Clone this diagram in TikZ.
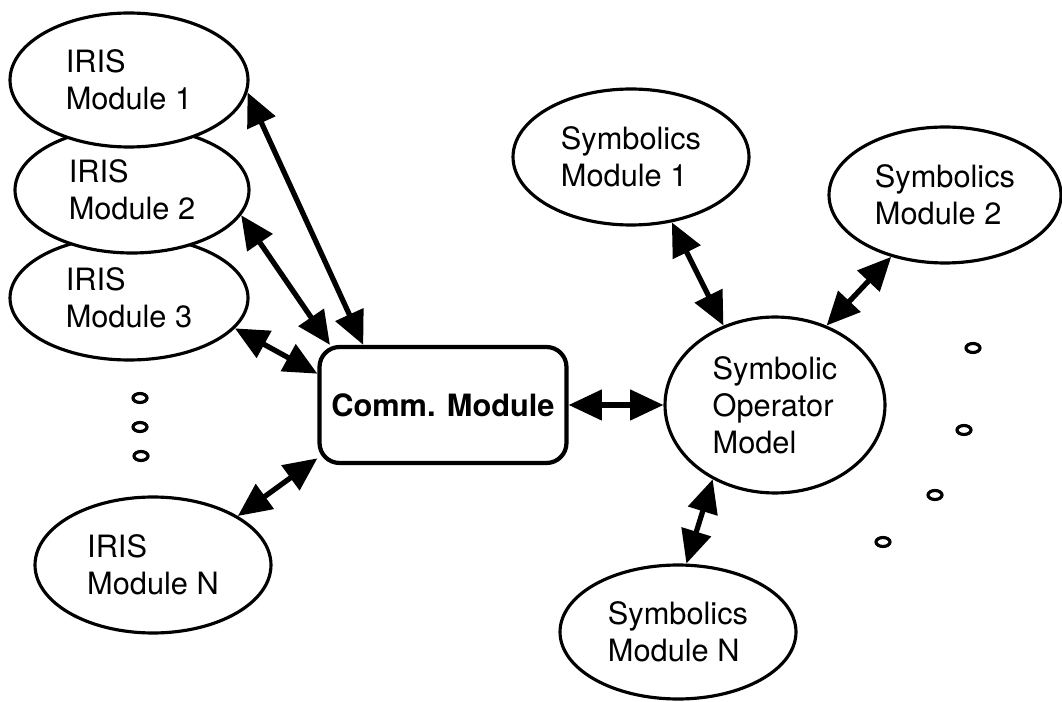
\documentclass[tikz,border=0pt]{standalone}
\usepackage{fontspec}
\setmainfont{TeX Gyre Heros}
\usetikzlibrary{shapes.geometric,arrows.meta}

\begin{document}
\begin{tikzpicture}[x=0.02cm,y=-0.02cm,
    module/.style={ellipse,draw,fill=white,line width=1.8pt,inner sep=0pt,align=left,
      font=\fontsize{17.5}{21}\selectfont},
    link/.style={line width=3pt,{Triangle[length=19pt,width=17pt]}-{Triangle[length=19pt,width=17pt]}},
    gap/.style={draw,line width=1.8pt}]
  \useasboundingbox (0,0) rectangle (1062,702);
  % IRIS side, back to front
  \node[module,minimum width=4.76cm,minimum height=2.48cm] (iris3) at (129,298) {IRIS\\Module 3};
  \node[module,minimum width=4.68cm,minimum height=2.52cm] (iris2) at (132,190) {IRIS\\Module 2};
  \node[module,minimum width=4.76cm,minimum height=2.68cm] (iris1) at (129,80) {IRIS\\Module 1};
  \node[module,minimum width=4.72cm,minimum height=2.72cm] (irisN) at (153,565) {IRIS\\Module N};
  \node[draw,rounded corners=0.4cm,line width=2.4pt,inner sep=2pt,
    minimum width=4.94cm,minimum height=2.32cm,
    font=\bfseries\fontsize{17.5}{21}\selectfont] (comm) at (443,405) {Comm. Module};
  % Symbolics side
  \node[module,minimum width=4.4cm,minimum height=3.52cm] (som) at (775,405) {Symbolic\\Operator\\Model};
  \node[module,minimum width=4.72cm,minimum height=2.72cm] (sym1) at (631,157) {Symbolics\\Module 1};
  \node[module,minimum width=4.64cm,minimum height=2.72cm] (sym2) at (945,195) {Symbolics\\Module 2};
  \node[module,minimum width=4.72cm,minimum height=2.68cm] (symN) at (678,632) {Symbolics\\Module N};

  \draw[link] (iris1.-6) -- (comm.143);
  \draw[link] (iris2.-13) -- (comm.152);
  \draw[link] (iris3.-16) -- (comm.166);
  \draw[link] (irisN.30) -- (comm.203);
  \draw[link] (comm.east) -- (som.west);
  \draw[link] (sym1.-58) -- (som.123);
  \draw[link] (sym2.229) -- (som.57);
  \draw[link] (symN.83) -- (som.230);

  % ellipsis dots
  \foreach \x/\y in {140/398,140/427,141/456,973/348,964/430,935/495,883/542}
    \draw[gap] (\x,\y) ellipse [x radius=7,y radius=4.5];
\end{tikzpicture}
\end{document}
